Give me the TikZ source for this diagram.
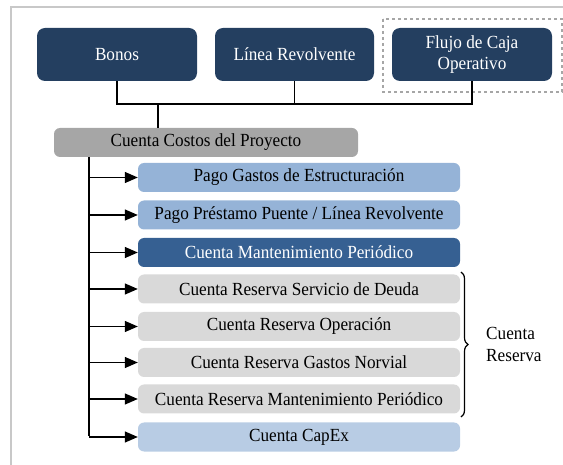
\documentclass[tikz,border=0pt]{standalone}
\usepackage{fontspec}
\setmainfont{Liberation Serif}[FakeStretch=0.93]
\usetikzlibrary{arrows.meta,decorations.pathreplacing}
\definecolor{navy}{HTML}{243F60}
\definecolor{midblue}{HTML}{95B3D7}
\definecolor{darkblue}{HTML}{366092}
\definecolor{lightgray}{HTML}{D9D9D9}
\definecolor{costgray}{HTML}{A6A6A6}
\definecolor{paleblue}{HTML}{B8CCE4}
\definecolor{framegray}{HTML}{C8C8C8}
\begin{document}
\begin{tikzpicture}[x=1pt,y=-1pt,
  every node/.style={font=\fontsize{18.5}{21}\selectfont},
  topbox/.style={fill=navy, rounded corners=8pt, text=white, minimum width=160pt, minimum height=53pt, align=center, inner sep=0pt},
  listbox/.style={rounded corners=6pt, minimum width=322pt, minimum height=29pt, inner sep=0pt},
  conn/.style={line width=1.5pt},
  arr/.style={line width=1.3pt, -{Triangle[length=13pt,width=11pt]}}
]
\useasboundingbox (0,0) rectangle (563,465);
% frame
\draw[framegray, line width=1.5pt] (11,465) -- (11,7) -- (563,7);
% dashed box
\draw[gray!70, dashed, line width=1.1pt] (383,19) rectangle (562,92);
% top boxes
\node[topbox] (bonos) at (117,54.5) {Bonos};
\node[topbox, minimum width=159pt] (linea) at (294.5,54.5) {Línea Revolvente};
\node[topbox] (flujo) at (472,54.5) {Flujo de Caja\\Operativo};
% cost account
\node[rounded corners=6pt, fill=costgray, minimum width=304pt, minimum height=29pt, inner sep=0pt] (costos) at (206,142.5) {Cuenta Costos del Proyecto};
% connectors top
\coordinate (hb) at (117,104);
\coordinate (hf) at (472,104);
\coordinate (hc) at (158,104);
\draw[conn] (bonos.south) -- (hb) -- (hf) -- (flujo.south);
\draw[conn] (linea.south) -- (linea.south |- hb);
\draw[conn] (hc) -- (costos.north -| hc);
% list boxes
\node[listbox, fill=midblue] (b1) at (299,177.5) {Pago Gastos de Estructuración};
\node[listbox, fill=midblue] (b2) at (299,215) {Pago Préstamo Puente / Línea Revolvente};
\node[listbox, fill=darkblue, text=white] (b3) at (299,252.5) {Cuenta Mantenimiento Periódico};
\node[listbox, fill=lightgray] (b4) at (299,289) {Cuenta Reserva Servicio de Deuda};
\node[listbox, fill=lightgray] (b5) at (299,326.5) {Cuenta Reserva Operación};
\node[listbox, fill=lightgray] (b6) at (299,362.5) {Cuenta Reserva Gastos Norvial};
\node[listbox, fill=lightgray] (b7) at (299,399) {Cuenta Reserva Mantenimiento Periódico};
\node[listbox, fill=paleblue] (b8) at (299,437) {Cuenta CapEx};
% spine
\coordinate (stop) at (89,157);
\coordinate (sbot) at (89,437);
\draw[line width=2pt] (stop) -- ([yshift=0.65pt]sbot);
\foreach \b in {b1,b2,b3,b4,b5,b6,b7,b8}{
  \draw[arr] (stop |- \b.west) -- (\b.west);
}
% brace
\coordinate (brtop) at (461,272);
\coordinate (brbot) at (461,417);
\draw[line width=1.2pt, decorate, decoration={brace, amplitude=7pt}] (brtop) -- (brbot);
\node[anchor=west, align=left, inner sep=0pt, font=\fontsize{18.5}{22}\selectfont] (reserva) at (486,344) {Cuenta\\Reserva};
\end{tikzpicture}
\end{document}
